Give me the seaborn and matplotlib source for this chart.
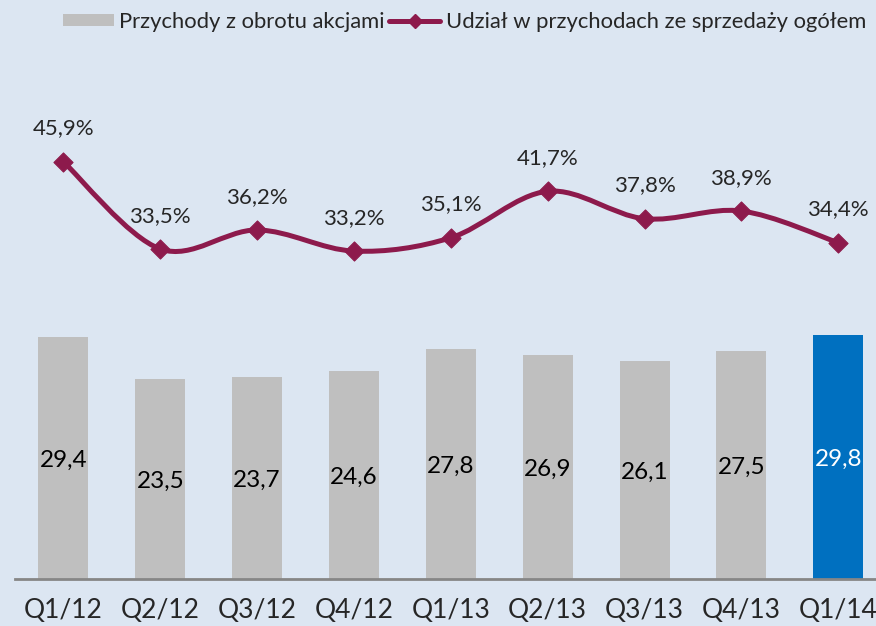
import numpy as np
import pandas as pd
import matplotlib
matplotlib.use("Agg")
import matplotlib.pyplot as plt
import seaborn as sns
from matplotlib.path import Path
from matplotlib.patches import PathPatch, Patch
from matplotlib.lines import Line2D

# ---- data ----
quarters = ["Q1/12", "Q2/12", "Q3/12", "Q4/12", "Q1/13", "Q2/13", "Q3/13", "Q4/13", "Q1/14"]
revenue = [29.4, 23.5, 23.7, 24.6, 27.8, 26.9, 26.1, 27.5, 29.8]
share = [45.9, 33.5, 36.2, 33.2, 35.1, 41.7, 37.8, 38.9, 34.4]
bar_series_name = "Przychody z obrotu akcjami"
line_series_name = "Udział w przychodach ze sprzedaży ogółem"

# ---- style ----
BG = "#DCE6F2"
GREY = "#BFBFBF"
BLUE = "#0070C0"
LINE = "#8D1A4C"
BAR_MIN = -5.2

sns.set_theme(style="white")
plt.rcParams["font.family"] = ["Lato", "DejaVu Sans"]

fig = plt.figure(figsize=(8.76, 6.26), dpi=100, facecolor=BG)
ax = fig.add_axes([15 / 876, 47 / 626, 1 - 15 / 876, 539 / 626])
ax.set_facecolor(BG)

df = pd.DataFrame({"q": quarters, "rev": revenue})
colors = [GREY] * (len(quarters) - 1) + [BLUE]
sns.barplot(data=df, x="q", y="rev", hue="q", palette=colors, legend=False,
            width=0.516, saturation=1, ax=ax, edgecolor="none")
# bars rise from the bottom of the value axis
for p in ax.patches:
    h = p.get_height()
    p.set_y(BAR_MIN)
    p.set_height(h - BAR_MIN)

ax.set_ylim(BAR_MIN, BAR_MIN + 539 / 6.98)
ax.set_xlim(-0.5, 8.39)

for i, v in enumerate(revenue):
    ax.annotate(f"{v:.1f}".replace(".", ","), (i, (BAR_MIN + v) / 2), xytext=(0, -1.5),
                textcoords="offset points", ha="center", va="center",
                fontsize=17.5, color="white" if i == len(revenue) - 1 else "black")

# ---- line on secondary axis ----
ax2 = ax.twinx()
ax2.set_ylim(-13.4, 63.2)
xs = np.arange(len(share), dtype=float)
ys = np.array(share, dtype=float)
n = len(xs)
verts = [(xs[0], ys[0])]
codes = [Path.MOVETO]
for i in range(n - 1):
    p0 = np.array([xs[max(i - 1, 0)], ys[max(i - 1, 0)]])
    p1 = np.array([xs[i], ys[i]])
    p2 = np.array([xs[i + 1], ys[i + 1]])
    p3 = np.array([xs[min(i + 2, n - 1)], ys[min(i + 2, n - 1)]])
    c1 = p1 + (p2 - p0) / 6
    c2 = p2 - (p3 - p1) / 6
    verts += [tuple(c1), tuple(c2), tuple(p2)]
    codes += [Path.CURVE4] * 3
ax2.add_patch(PathPatch(Path(verts, codes), facecolor="none", edgecolor=LINE,
                        lw=3.6, capstyle="round", joinstyle="round", zorder=2))
sns.scatterplot(x=xs, y=ys, marker="D", s=95, color=LINE, edgecolor=LINE,
                ax=ax2, zorder=3, legend=False)
for i, s in enumerate(share):
    ax2.annotate(f"{s:.1f}%".replace(".", ","), (xs[i], s), xytext=(0, 24),
                 textcoords="offset points", ha="center", va="center", fontsize=16)

# ---- axes cosmetics ----
for a in (ax, ax2):
    for sp in a.spines.values():
        sp.set_visible(False)
    a.set_yticks([])
    a.set_ylabel("")
ax.spines["bottom"].set_visible(True)
ax.spines["bottom"].set_color("#868686")
ax.spines["bottom"].set_linewidth(2)
ax.set_xlabel("")
ax.tick_params(axis="x", length=0, pad=14, labelsize=19)

# ---- legend ----
handles = [Patch(facecolor=GREY, edgecolor="none"),
           Line2D([], [], color=LINE, lw=3.6, marker="D", markersize=7)]
fig.legend(handles, [bar_series_name, line_series_name], loc="upper right",
           bbox_to_anchor=(866 / 876, 1 - 12 / 626), ncol=2, frameon=False,
           fontsize=15.8, handlelength=2.33, handleheight=0.5, handletextpad=0.25,
           columnspacing=0.2, borderpad=0, borderaxespad=0)

fig.savefig("out.png", dpi=100, facecolor=BG)
